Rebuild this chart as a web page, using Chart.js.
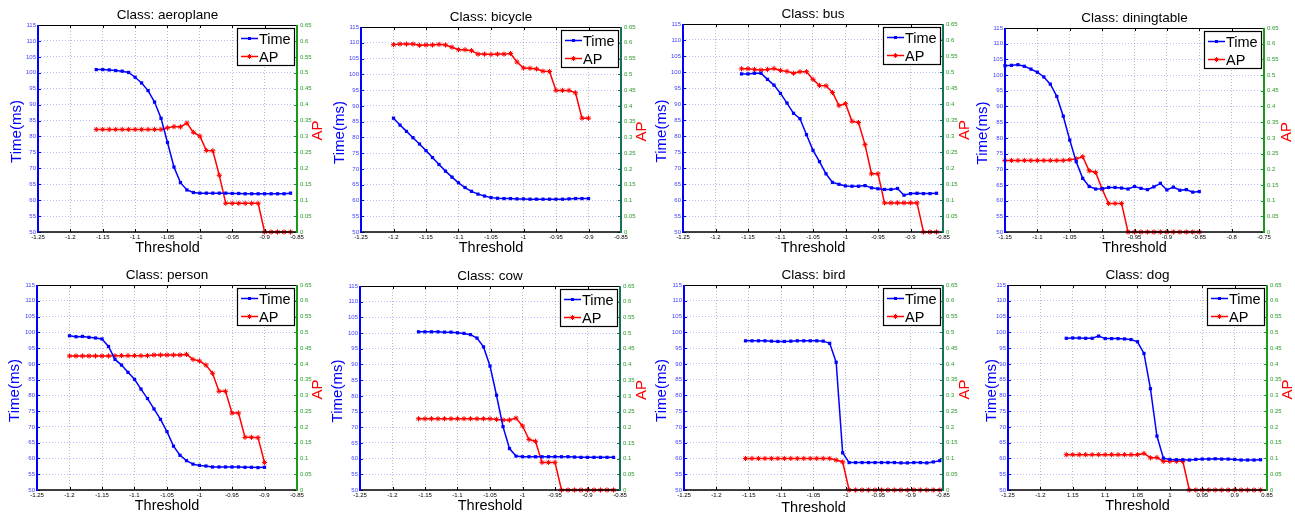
<!DOCTYPE html>
<html><head><meta charset="utf-8">
<script src="https://cdn.jsdelivr.net/npm/chart.js@4.4.1/dist/chart.umd.min.js"></script>
<style>
html,body{margin:0;padding:0;background:#fff;}
body{width:1295px;height:516px;position:relative;overflow:hidden;}
canvas{position:absolute;}
</style></head><body>
<script>
// ---------- thresholds (x categories) ----------
const X_116 = [-1.16,-1.15,-1.14,-1.13,-1.12,-1.11,-1.10,-1.09,-1.08,-1.07,-1.06,-1.05,-1.04,-1.03,-1.02,-1.01,-1.00,-0.99,-0.98,-0.97,-0.96,-0.95,-0.94,-0.93,-0.92,-0.91,-0.90,-0.89,-0.88,-0.87,-0.86];
const X_120 = [-1.20,-1.19,-1.18,-1.17,-1.16,-1.15,-1.14,-1.13,-1.12,-1.11,-1.10,-1.09,-1.08,-1.07,-1.06,-1.05,-1.04,-1.03,-1.02,-1.01,-1.00,-0.99,-0.98,-0.97,-0.96,-0.95,-0.94,-0.93,-0.92,-0.91,-0.90];
const X_115 = [-1.15,-1.14,-1.13,-1.12,-1.11,-1.10,-1.09,-1.08,-1.07,-1.06,-1.05,-1.04,-1.03,-1.02,-1.01,-1.00,-0.99,-0.98,-0.97,-0.96,-0.95,-0.94,-0.93,-0.92,-0.91,-0.90,-0.89,-0.88,-0.87,-0.86,-0.85];
const X_1155 = [-1.155,-1.145,-1.135,-1.125,-1.115,-1.105,-1.095,-1.085,-1.075,-1.065,-1.055,-1.045,-1.035,-1.025,-1.015,-1.005,-0.995,-0.985,-0.975,-0.965,-0.955,-0.945,-0.935,-0.925,-0.915,-0.905,-0.895,-0.885,-0.875,-0.865,-0.855];

// ---------- series values ----------
const aeroplaneTime = [101.0,101.0,100.9,100.7,100.5,100.1,98.6,96.8,94.4,90.8,85.7,78.1,70.4,65.5,63.2,62.4,62.2,62.2,62.2,62.2,62.2,62.1,62.1,62.0,62.0,62.0,62.0,62.0,62.0,62.0,62.2];
const aeroplaneAP   = [0.322,0.322,0.322,0.322,0.322,0.322,0.322,0.322,0.322,0.322,0.322,0.327,0.331,0.330,0.342,0.313,0.301,0.256,0.255,0.178,0.090,0.090,0.090,0.090,0.090,0.090,0,0,0,0,0];
const bicycleTime   = [86.1,83.9,81.9,79.9,77.9,75.8,73.6,71.4,69.3,67.4,65.6,64.1,62.9,62.0,61.4,60.9,60.7,60.6,60.6,60.5,60.5,60.4,60.4,60.4,60.4,60.4,60.4,60.5,60.6,60.6,60.6];
const bicycleAP     = [0.594,0.596,0.596,0.596,0.592,0.593,0.593,0.595,0.593,0.586,0.578,0.578,0.575,0.564,0.564,0.563,0.564,0.564,0.566,0.539,0.520,0.519,0.517,0.510,0.509,0.449,0.449,0.449,0.441,0.361,0.361];
const busTime       = [99.4,99.4,99.6,99.6,97.7,95.9,93.3,90.3,87.1,85.4,80.4,75.5,72.0,68.2,65.5,64.9,64.4,64.3,64.3,64.5,63.8,63.5,63.3,63.3,63.6,61.5,62.0,62.1,62.0,62.0,62.1];
const busAP         = [0.510,0.510,0.508,0.506,0.508,0.511,0.505,0.502,0.496,0.501,0.501,0.477,0.458,0.457,0.436,0.395,0.401,0.346,0.342,0.273,0.182,0.182,0.091,0.091,0.091,0.091,0.091,0.091,0,0,0];
const diningTime    = [103.0,103.1,103.3,102.8,101.9,100.9,99.4,97.1,93.2,86.9,79.3,72.4,67.1,64.5,63.7,63.8,64.2,64.2,64.0,63.7,64.5,63.9,63.5,64.4,65.5,63.4,64.3,63.3,63.5,62.7,62.9];
const diningAP      = [0.228,0.228,0.228,0.228,0.228,0.228,0.228,0.228,0.228,0.228,0.230,0.233,0.240,0.195,0.190,0.137,0.091,0.091,0.091,0,0,0,0,0,0,0,0,0,0,0,0];
const personTime    = [98.9,98.6,98.7,98.4,98.2,97.9,95.5,91.4,89.6,87.3,85.1,82.0,79.0,75.7,72.4,68.5,63.9,61.0,59.3,58.2,57.8,57.6,57.3,57.3,57.3,57.3,57.3,57.2,57.2,57.1,57.2];
const personAP      = [0.425,0.425,0.425,0.425,0.425,0.425,0.425,0.426,0.426,0.426,0.426,0.426,0.426,0.428,0.428,0.428,0.428,0.428,0.430,0.414,0.409,0.396,0.370,0.313,0.313,0.244,0.244,0.167,0.167,0.166,0.087];
const cowTime       = [100.4,100.4,100.4,100.4,100.3,100.3,100.1,99.9,99.5,98.4,95.6,89.5,80.2,70.2,63.2,60.8,60.6,60.6,60.6,60.6,60.6,60.6,60.6,60.6,60.5,60.4,60.4,60.4,60.4,60.4,60.4];
const cowAP         = [0.227,0.227,0.227,0.227,0.227,0.227,0.227,0.227,0.227,0.227,0.227,0.227,0.225,0.223,0.223,0.229,0.204,0.161,0.155,0.088,0.088,0.088,0,0,0,0,0,0,0,0,0];
const birdTime      = [97.3,97.3,97.3,97.3,97.2,97.1,97.1,97.2,97.3,97.3,97.3,97.3,97.2,96.5,90.5,61.8,58.7,58.7,58.7,58.7,58.7,58.7,58.7,58.7,58.6,58.6,58.7,58.7,58.6,58.9,59.3];
const birdAP        = [0.1,0.1,0.1,0.1,0.1,0.1,0.1,0.1,0.1,0.1,0.1,0.1,0.1,0.1,0.095,0.089,0,0,0,0,0,0,0,0,0,0,0,0,0,0,0];
const dogTime       = [98.1,98.2,98.2,98.1,98.1,98.8,98.0,98.0,98.0,97.9,97.7,97.0,93.3,82.1,67.1,60.1,59.7,59.6,59.6,59.5,59.7,59.8,59.8,59.9,59.8,59.8,59.7,59.5,59.5,59.5,59.6];
const dogAP         = [0.112,0.112,0.112,0.112,0.112,0.112,0.112,0.112,0.112,0.112,0.112,0.112,0.116,0.102,0.103,0.091,0.091,0.091,0.091,0,0,0,0,0,0,0,0,0,0,0,0];

// ---------- tick values and labels ----------
const XT_STD = [-1.25,-1.2,-1.15,-1.1,-1.05,-1,-0.95,-0.9,-0.85];
const XL_STD = ['-1.25','-1.2','-1.15','-1.1','-1.05','-1','-0.95','-0.9','-0.85'];
const XT_DIN = [-1.15,-1.1,-1.05,-1,-0.95,-0.9,-0.85,-0.8,-0.75];
const XL_DIN = ['-1.15','-1.1','-1.05','-1','-0.95','-0.9','-0.85','-0.8','-0.75'];
const XL_DOG = ['-1.25','-1.2','1.15','1.1','1.05','1','0.95','0.9','0.85'];
const YL_T = [50,55,60,65,70,75,80,85,90,95,100,105,110,115];
const YL_L = ['50','55','60','65','70','75','80','85','90','95','100','105','110','115'];
const YR_T = [0,0.05,0.1,0.15,0.2,0.25,0.3,0.35,0.4,0.45,0.5,0.55,0.6,0.65];
const YR_L = ['0','0.05','0.1','0.15','0.2','0.25','0.3','0.35','0.4','0.45','0.5','0.55','0.6','0.65'];

const GREEN = '#1a9a1a', TEAL = '#17705a';
const FONT = "'Liberation Sans', Arial, sans-serif";
const PADL = 45, PADR = 45, PADT = 26, PADB = 32;

const panels = [
 {cls:'aeroplane',  x:X_116, t:aeroplaneTime, a:aeroplaneAP, xt:XT_STD, xl:XL_STD, L:38,  R:297,  T:25,  B:232, rc:GREEN, yo:21, ao:21},
 {cls:'bicycle',    x:X_120, t:bicycleTime,   a:bicycleAP,   xt:XT_STD, xl:XL_STD, L:361, R:621,  T:27,  B:232, rc:TEAL,  yo:21, ao:21},
 {cls:'bus',        x:X_116, t:busTime,       a:busAP,       xt:XT_STD, xl:XL_STD, L:683, R:943,  T:24,  B:232, rc:TEAL,  yo:21, ao:22},
 {cls:'diningtable',x:X_115, t:diningTime,    a:diningAP,    xt:XT_DIN, xl:XL_DIN, L:1005,R:1264, T:28,  B:232, rc:GREEN, yo:22, ao:23},
 {cls:'person',     x:X_120, t:personTime,    a:personAP,    xt:XT_STD, xl:XL_STD, L:37,  R:297,  T:285, B:490, rc:GREEN, yo:22, ao:21},
 {cls:'cow',        x:X_116, t:cowTime,       a:cowAP,       xt:XT_STD, xl:XL_STD, L:360, R:620,  T:286, B:490, rc:TEAL,  yo:22, ao:22},
 {cls:'bird',       x:X_1155,t:birdTime,      a:birdAP,      xt:XT_STD, xl:XL_STD, L:684, R:943,  T:285, B:490, rc:TEAL,  yo:22, ao:22},
 {cls:'dog',        x:X_116, t:dogTime,       a:dogAP,       xt:XT_STD, xl:XL_DOG, L:1008,R:1267, T:285, B:490, rc:GREEN, yo:16, ao:21}
];

function drawStar(ctx, x, y, r) {
  ctx.beginPath();
  ctx.moveTo(x - r, y); ctx.lineTo(x + r, y);
  ctx.moveTo(x, y - r); ctx.lineTo(x, y + r);
  const d = r * 0.7;
  ctx.moveTo(x - d, y - d); ctx.lineTo(x + d, y + d);
  ctx.moveTo(x - d, y + d); ctx.lineTo(x + d, y - d);
  ctx.stroke();
}

const decor = {
  id: 'decor',
  afterDraw(chart) {
    const p = chart.options.plugins.decor;
    const ctx = chart.ctx, ca = chart.chartArea;
    const xs = chart.scales.x, yl = chart.scales.y, yr = chart.scales.y1;
    ctx.save();
    // inward tick marks
    ctx.lineWidth = 1;
    ctx.strokeStyle = '#000';
    xs.ticks.forEach(t => {
      const px = Math.round(xs.getPixelForValue(t.value)) + 0.5;
      ctx.beginPath();
      ctx.moveTo(px, ca.bottom); ctx.lineTo(px, ca.bottom - 3);
      ctx.moveTo(px, ca.top); ctx.lineTo(px, ca.top + 3);
      ctx.stroke();
    });
    ctx.strokeStyle = '#0000ff';
    yl.ticks.forEach(t => {
      const py = Math.round(yl.getPixelForValue(t.value)) + 0.5;
      ctx.beginPath(); ctx.moveTo(ca.left, py); ctx.lineTo(ca.left + 3, py); ctx.stroke();
    });
    ctx.strokeStyle = p.rc;
    yr.ticks.forEach(t => {
      const py = Math.round(yr.getPixelForValue(t.value)) + 0.5;
      ctx.beginPath(); ctx.moveTo(ca.right, py); ctx.lineTo(ca.right - 3, py); ctx.stroke();
    });
    // frame
    ctx.strokeStyle = '#000';
    ctx.lineWidth = 1;
    ctx.beginPath(); ctx.moveTo(ca.left, ca.top + 0.5); ctx.lineTo(ca.right, ca.top + 0.5); ctx.stroke();
    ctx.lineWidth = 1.5;
    ctx.beginPath(); ctx.moveTo(ca.left, ca.bottom); ctx.lineTo(ca.right, ca.bottom); ctx.stroke();
    ctx.lineWidth = 2;
    ctx.strokeStyle = '#0000ff';
    ctx.beginPath(); ctx.moveTo(ca.left, ca.top); ctx.lineTo(ca.left, ca.bottom + 1); ctx.stroke();
    ctx.strokeStyle = p.rc;
    ctx.beginPath(); ctx.moveTo(ca.right, ca.top); ctx.lineTo(ca.right, ca.bottom + 1); ctx.stroke();

    // texts
    const cx = (ca.left + ca.right) / 2, cy = (ca.top + ca.bottom) / 2;
    ctx.textAlign = 'center'; ctx.textBaseline = 'middle';
    ctx.fillStyle = '#000';
    ctx.font = '13.5px ' + FONT;
    ctx.fillText('Class: ' + p.cls, cx, ca.top - 10);
    ctx.font = '14.5px ' + FONT;
    ctx.fillText('Threshold', cx, ca.bottom + p.xo);
    ctx.font = '15px ' + FONT;
    ctx.save();
    ctx.translate(ca.left - p.yo, cy + 3); ctx.rotate(-Math.PI / 2);
    ctx.fillStyle = '#0000ff'; ctx.fillText('Time(ms)', 0, 0);
    ctx.restore();
    ctx.save();
    ctx.translate(ca.right + p.ao, cy + 2); ctx.rotate(-Math.PI / 2);
    ctx.fillStyle = '#ff0000'; ctx.fillText('AP', 0, 0);
    ctx.restore();

    // legend
    const bw = 57, bh = 37;
    const bx = Math.round(ca.right - 3 - bw), by = Math.round(ca.top + 3);
    ctx.fillStyle = '#fff'; ctx.fillRect(bx, by, bw, bh);
    ctx.strokeStyle = '#000'; ctx.lineWidth = 1.2; ctx.strokeRect(bx + 0.5, by + 0.5, bw, bh);
    const r1 = by + 10.5, r2 = by + 28.5;
    ctx.lineWidth = 1.5;
    ctx.strokeStyle = '#0000ff';
    ctx.beginPath(); ctx.moveTo(bx + 4, r1); ctx.lineTo(bx + 21, r1); ctx.stroke();
    ctx.fillStyle = '#0000ff'; ctx.fillRect(bx + 11, r1 - 1.5, 3, 3);
    ctx.strokeStyle = '#ff0000';
    ctx.beginPath(); ctx.moveTo(bx + 4, r2); ctx.lineTo(bx + 21, r2); ctx.stroke();
    ctx.lineWidth = 1; drawStar(ctx, bx + 12.5, r2, 2.5);
    ctx.fillStyle = '#000'; ctx.textAlign = 'left'; ctx.font = '14.5px ' + FONT;
    ctx.fillText('Time', bx + 22, r1 + 1);
    ctx.fillText('AP', bx + 22, r2 + 1);
    ctx.restore();
  }
};

panels.forEach(p => {
  const cv = document.createElement('canvas');
  const w = p.R - p.L + PADL + PADR, h = p.B - p.T + PADT + PADB;
  cv.width = w; cv.height = h;
  cv.style.left = (p.L - PADL) + 'px';
  cv.style.top = (p.T - PADT) + 'px';
  cv.style.width = w + 'px'; cv.style.height = h + 'px';
  document.body.appendChild(cv);
  const timePts = p.x.map((v, i) => ({x: v, y: p.t[i]}));
  const apPts = p.x.map((v, i) => ({x: v, y: p.a[i]}));
  new Chart(cv, {
    type: 'line',
    data: {datasets: [
      {label: 'Time', data: timePts, yAxisID: 'y', borderColor: '#0000ff', backgroundColor: '#0000ff',
       borderWidth: 1.5, pointStyle: 'rect', pointRadius: 2.3, pointBorderWidth: 0, tension: 0, clip: false},
      {label: 'AP', data: apPts, yAxisID: 'y1', borderColor: '#ff0000', backgroundColor: '#ff0000',
       borderWidth: 1.5, pointStyle: 'star', pointRadius: 2.6, pointBorderWidth: 1, tension: 0, clip: false}
    ]},
    options: {
      responsive: false, animation: false, devicePixelRatio: 1,
      layout: {padding: {top: PADT, left: 0, right: 0, bottom: 0}},
      plugins: {legend: {display: false}, title: {display: false}, tooltip: {enabled: false},
        decor: {cls: p.cls, rc: p.rc, yo: p.yo, ao: p.ao, xo: p.cls === 'bird' ? 18 : 16}},
      scales: {
        x: {type: 'linear', position: 'bottom', min: p.xt[0], max: p.xt[p.xt.length - 1],
            afterBuildTicks: s => { s.ticks = p.xt.map(v => ({value: v})); },
            afterFit: s => { s.height = PADB; },
            ticks: {autoSkip: false, maxRotation: 0, padding: 2, color: '#000', font: {size: 6, family: FONT},
                    callback: (v, i) => p.xl[i]},
            grid: {color: 'rgba(0,0,0,0.26)', lineWidth: 1, drawTicks: false},
            border: {display: false, dash: [1, 2]}},
        y: {type: 'linear', position: 'left', min: 50, max: 115,
            afterBuildTicks: s => { s.ticks = YL_T.map(v => ({value: v})); },
            afterFit: s => { s.width = PADL; },
            ticks: {padding: 2, color: '#4040ff', font: {size: 6, family: FONT}, callback: (v, i) => YL_L[i]},
            grid: {color: 'rgba(70,70,255,0.36)', lineWidth: 1, drawTicks: false},
            border: {display: false, dash: [1, 2]}},
        y1: {type: 'linear', position: 'right', min: 0, max: 0.65,
            afterBuildTicks: s => { s.ticks = YR_T.map(v => ({value: v})); },
            afterFit: s => { s.width = PADR; },
            ticks: {padding: 3, color: '#2a9a2a', font: {size: 6, family: FONT}, callback: (v, i) => YR_L[i]},
            grid: {display: false, drawTicks: false},
            border: {display: false}}
      }
    },
    plugins: [decor]
  });
});
</script>
</body></html>
